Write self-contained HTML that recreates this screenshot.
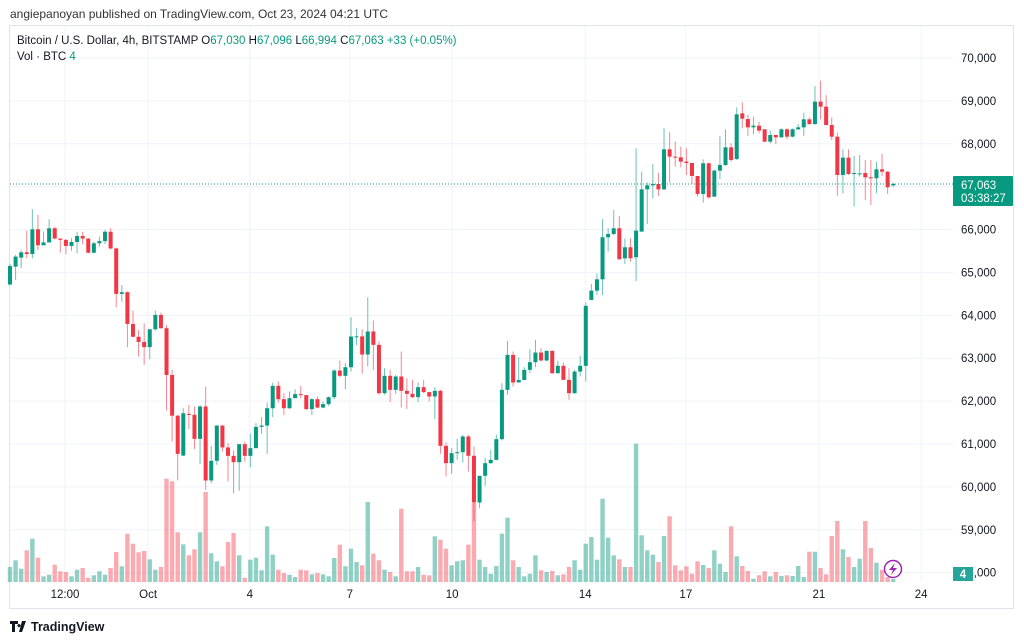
<!DOCTYPE html>
<html><head><meta charset="utf-8"><style>
html,body{margin:0;padding:0;background:#fff;width:1024px;height:641px;overflow:hidden}
svg{display:block;font-family:"Liberation Sans",sans-serif}
</style></head><body>
<svg id="chart" width="1024" height="641" viewBox="0 0 1024 641" xmlns="http://www.w3.org/2000/svg">
<text x="10" y="18" font-size="12" fill="#333">angiepanoyan published on TradingView.com, Oct 23, 2024 04:21 UTC</text>
<rect x="9.5" y="25.5" width="1004" height="583" fill="none" stroke="#e0e3eb"/>
<g id="grid"></g>
<g id="vol"></g>
<g id="candles"></g>
<g id="axes"></g>
<text x="17" y="44" font-size="11.5" fill="#131722">Bitcoin / U.S. Dollar, 4h, BITSTAMP <tspan fill="#131722">O</tspan><tspan fill="#089981">67,030</tspan> <tspan fill="#131722">H</tspan><tspan fill="#089981">67,096</tspan> <tspan fill="#131722">L</tspan><tspan fill="#089981">66,994</tspan> <tspan fill="#131722">C</tspan><tspan fill="#089981">67,063</tspan> <tspan fill="#089981">+33 (+0.05%)</tspan></text>
<text x="17" y="60" font-size="11.5" fill="#131722">Vol · BTC <tspan fill="#089981">4</tspan></text>
<g>
<path d="M10 621h8v3h-3v8h-3v-8h-2z M19 624a1.6 1.6 0 1 0 0.01 0z M22 621h4l-4 11h-3z" fill="#131722"/>
<text x="31" y="631" font-size="12.5" font-weight="bold" fill="#131722">TradingView</text>
</g>
</svg>
<script>
const opens=[64720,65136,65346,65470,65430,66006,65633,65700,66030,65790,65760,65618,65710,65850,65790,65460,65680,65730,65950,65560,64500,64540,63800,63500,63380,63260,63675,64010,63700,62610,61660,60730,61703,61680,61120,61875,60150,60608,61430,60920,60724,60577,60996,60724,60903,61400,61430,61835,62356,62045,61835,62068,62162,62140,61813,62045,61850,61930,62092,62713,62590,62790,63506,63510,63086,63623,63312,62185,62590,62263,62574,62240,62170,62092,62325,62210,62108,62240,60957,60554,60787,60810,61175,60725,59637,60258,60553,60630,61113,62263,63078,62434,62493,62730,62908,63133,62947,63172,62651,62823,62496,62185,62690,62823,64359,64576,64840,65820,65897,66030,65330,65587,65354,65952,66938,67032,67063,66938,67871,67700,67684,67584,67552,67250,66830,67545,66768,67374,67506,67917,67645,68710,68578,68384,68422,68337,68050,68205,68150,68337,68166,68337,68384,68570,68461,68982,68865,68438,68166,67273,67677,67296,67290,67320,67218,67195,67405,67350,67030];
const highs=[65200,65408,65525,65975,66472,66340,65952,66239,66068,65796,65773,65796,65952,65952,65800,65719,65835,65991,66030,65580,64709,64560,64110,63660,63815,63675,64110,64064,63776,62727,61680,61834,61913,61874,61913,62340,60957,61440,61440,61020,60850,61000,61059,61237,61486,61626,61968,62434,62457,62185,62224,62278,62356,62150,62069,62108,61991,62110,62745,62947,62885,63957,63700,63677,64423,63879,63390,62768,62729,62613,63157,62535,62496,62434,62496,62220,62325,62260,61035,60903,61121,61214,61214,60942,60260,60670,60864,61214,62418,63405,63157,63024,62791,63211,63428,63234,63180,63180,62939,62900,62768,62729,63055,64299,64732,64980,66239,66030,66457,66317,65796,65796,67894,67350,67094,67529,67327,68360,68267,68050,67933,67894,67560,67234,67638,67560,67400,68182,68337,68011,68850,68966,68671,68632,68516,68340,68306,68210,68360,68360,68360,68461,68726,68616,69347,69471,69137,68617,68260,67871,67871,67716,67739,67622,67622,67583,67762,67360,67096];
const lows=[64700,64825,65097,65330,65330,65525,65641,65773,65773,65462,65424,65509,65447,65657,65447,65447,65602,65664,65540,64188,64320,63255,63490,63038,62844,62976,63650,63690,61780,61057,60150,60720,61346,60880,60530,59932,60087,60515,60826,60126,59854,59909,60592,60460,60900,61237,60771,61626,61968,61673,61812,62150,62069,61797,61680,61835,61835,61890,62045,62558,62278,62690,63296,62636,62807,62729,62147,62150,61975,62170,61851,61820,62069,61975,62190,61991,61579,60771,60243,60305,60631,60569,60359,59200,59505,60025,60540,60620,61080,62147,62340,62457,62512,62652,62791,62923,62930,62636,62640,62490,62030,62170,62574,62457,64350,64475,64475,65485,65874,65300,65198,65252,64802,65950,66130,66729,66783,66923,67094,67467,67451,67273,67063,66768,66628,66721,66760,67172,67482,67583,67622,68360,68182,68228,68244,68040,68011,67995,68140,68104,68150,68320,68182,68440,68440,68570,68430,68088,66791,66845,67273,66534,67234,66690,66573,66845,67250,66830,66994];
const closes=[65150,65369,65470,65430,66006,65633,65700,66030,65790,65760,65618,65710,65850,65790,65460,65680,65730,65950,65560,64500,64540,63800,63500,63380,63260,63675,64010,63700,62610,61660,60770,61717,61680,61120,61875,60150,60608,61430,60920,60724,60577,60996,60724,60903,61400,61430,61835,62356,62045,61835,62068,62162,62140,61813,62045,61850,61930,62092,62713,62590,62790,63506,63510,63086,63623,63312,62185,62590,62263,62574,62240,62170,62092,62325,62210,62108,62240,60957,60554,60787,60810,61175,60725,59637,60258,60553,60630,61113,62263,63078,62434,62493,62730,62908,63133,62947,63172,62651,62823,62496,62185,62690,62823,64221,64576,64840,65820,65897,66030,65307,65587,65330,65975,66938,67032,67063,66938,67871,67700,67684,67584,67552,67250,66830,67545,66752,67374,67506,67917,67622,68687,68586,68384,68422,68306,68050,68205,68150,68337,68166,68337,68384,68570,68461,68982,68865,68438,68166,67273,67677,67296,67320,67310,67218,67195,67405,67350,66985,67063];
const volumes=[15,21.7,13.3,31.7,43.3,24.3,5.7,7.3,17.3,10.7,10,5.7,12.3,14,4.3,6.7,10.7,7.3,14,30,15.7,48.3,38.3,29.7,31,22.7,12.3,15,103.3,100.7,49.7,37.7,26.7,32.7,49.7,90,28.7,20.7,15.7,40,49,26.7,4.3,22.3,24.3,11.7,55.7,27.3,12.3,9,7.3,5,12.3,11.7,7.7,9,7.7,5.7,24,37.3,15.7,33.3,20,16.7,80,28.3,21.7,12.3,10,5.7,73.3,10.7,10.7,15,7.3,6.7,45.7,42.3,33.3,16.7,20.7,21.7,37.3,79,22.3,15,8.3,16,48.3,64.3,21.7,15,5.7,8.3,26.7,11.7,10,11,6.7,7.7,15,21.7,12.3,38.3,45,22.3,83.3,44.3,26.7,22.7,15,15,138.3,46.7,31.7,27.3,20,46,65.7,16.7,11.7,15.7,8.3,20.7,17,14,31.7,18.3,10,55.7,25.7,16,11,3.3,6.7,10.7,5.7,10,6,6.7,6,16,5,30.3,30.3,14,7.7,46,61,32.7,25,15,23.3,61,34,19.3,12.3,5,3];
const priceTicks=[70000,69000,68000,67000,66000,65000,64000,63000,62000,61000,60000,59000,58000];
const timeTickLabels=["12:00","Oct","4","7","10","14","17","21","24"];
const timeTickIndex=[9.84,24.7,42.9,60.8,79.1,102.9,120.9,144.7,163];
const lastPrice=67063;

const NS="http://www.w3.org/2000/svg";
const PL=10,PR=953,VB=582;
function xS(i){return 10+i*5.59;}
function yS(p){return 58+(70000-p)*0.04289;}
function vS(v){return VB-v;}
function mk(tag,attrs,parent){const e=document.createElementNS(NS,tag);for(const k in attrs)e.setAttribute(k,attrs[k]);parent.appendChild(e);return e;}
const grid=document.getElementById('grid'),vol=document.getElementById('vol'),cg=document.getElementById('candles'),ax=document.getElementById('axes');
priceTicks.forEach(p=>{
  const l=mk('line',{x1:PL,x2:PR,y1:yS(p),y2:yS(p),stroke:'#f0f3fa','stroke-width':1},grid);
  
  
  const t=mk('text',{x:961,y:yS(p)+4,'font-size':11.5,fill:'#131722'},ax);
  t.textContent=p.toLocaleString('en-US');
  
  
});
timeTickIndex.forEach((ti,k)=>{
  const x=xS(ti);
  const l=mk('line',{x1:x,x2:x,y1:26,y2:VB,stroke:'#f0f3fa','stroke-width':1},grid);
  
  
  const t=mk('text',{x:x,y:598,'font-size':11.5,fill:'#131722','text-anchor':'middle'},ax);
  t.textContent=timeTickLabels[k];
  
  
});
closes.forEach((c,i)=>{
  const o=opens[i],up=c>=o,x=xS(i);
  const vc=up?'rgba(8,153,129,0.45)':'rgba(242,54,69,0.42)';
  const vb=mk('rect',{x:x-2.2,y:vS(volumes[i]),width:4.4,height:volumes[i],fill:vc},vol);
  
  
  const col=up?'#089981':'#f23645';
  const w=mk('line',{x1:x,x2:x,y1:yS(highs[i]),y2:yS(lows[i]),stroke:col,'stroke-width':1,'stroke-opacity':0.6},cg);
  
  
  const top=yS(Math.max(o,c)),bot=yS(Math.min(o,c));
  const b=mk('rect',{x:x-2,y:top,width:4,height:Math.max(1,bot-top),fill:col},cg);
  
  
});
const ly=yS(lastPrice);
const dl=mk('line',{x1:PL,x2:PR,y1:ly,y2:ly,stroke:'#089981','stroke-width':1,'stroke-dasharray':'1,2'},ax);


const lb=mk('rect',{x:953,y:ly-8,width:60,height:30,fill:'#089981',rx:1},ax);


const lt=mk('text',{x:961,y:ly+5,'font-size':11.5,fill:'#fff'},ax);lt.textContent='67,063';


const ct=mk('text',{x:961,y:ly+18,'font-size':11.5,fill:'#fff'},ax);ct.textContent='03:38:27';


const vbx=mk('rect',{x:953,y:567,width:20,height:14,fill:'#26a69a'},ax);


const vt=mk('text',{x:963,y:578,'font-size':11.5,fill:'#fff','text-anchor':'middle','font-weight':'bold'},ax);vt.textContent='4';


const lg=mk('g',{},ax);


mk('circle',{cx:893,cy:569,r:8.5,fill:'#fff',stroke:'#9c27b0','stroke-width':1.5},lg);
mk('path',{d:'M895 563 L889 570 L893 570 L891 575 L897 568 L893 568 Z',fill:'#9c27b0'},lg);
</script>
</body></html>
